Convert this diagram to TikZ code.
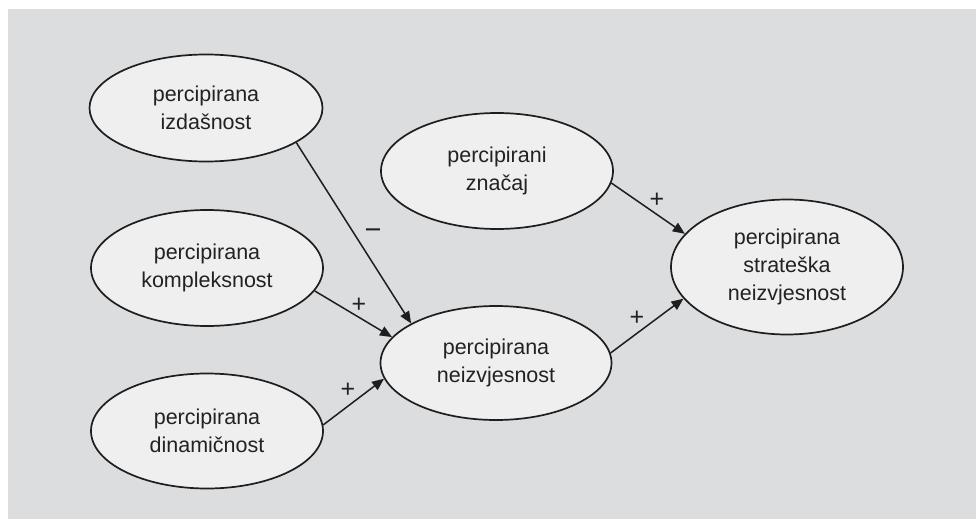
\documentclass[tikz,border=0pt]{standalone}
\usepackage{fontspec}
\setmainfont{Liberation Sans}
\usetikzlibrary{shapes.geometric,arrows.meta}
\definecolor{bgc}{HTML}{DCDDDF}
\definecolor{elc}{HTML}{EFEFEF}
\definecolor{lnc}{HTML}{1E1E1E}
\definecolor{txc}{HTML}{222222}
\tikzset{
  oval/.style={ellipse, draw=lnc, line width=1.7pt, fill=elc, inner sep=0pt,
    text=txc, align=center, font=\fontsize{21.5}{28}\selectfont},
  arr/.style={draw=lnc, line width=1.5pt, -{Triangle[length=12pt,width=10pt]}},
  sign/.style={text=txc, inner sep=0pt, font=\fontsize{25}{28}\selectfont}
}
\begin{document}
\begin{tikzpicture}[x=1pt,y=-1pt]
\useasboundingbox (0,0) rectangle (976,519);
\fill[white] (0,0) rectangle (976,519);
\fill[bgc] (8,9) rectangle (976,519);
\node[oval, minimum width=233pt, minimum height=107pt] (izd) at (206,108) {percipirana\\izdašnost};
\node[oval, minimum width=232pt, minimum height=116pt] (kom) at (207,268) {percipirana\\kompleksnost};
\node[oval, minimum width=232pt, minimum height=115pt] (din) at (207,431) {percipirana\\dinamičnost};
\node[oval, minimum width=231pt, minimum height=114pt] (nei) at (496,363) {percipirana\\neizvjesnost};
\node[oval, minimum width=232pt, minimum height=116pt] (zna) at (497,171) {percipirani\\značaj};
\node[oval, minimum width=232pt, minimum height=135pt] (str) at (787,267) {percipirana\\strateška\\neizvjesnost};
\draw[arr] (izd.-21) -- (nei.155);
\draw[arr] (kom.-12) -- (nei.166);
\draw[arr] (din.3) -- (nei.188);
\draw[arr] (nei.5) -- (str.197);
\draw[arr] (zna.-6) -- (str.162);
\node[sign, font=\fontsize{29}{30}\selectfont] (s1) at (373,234) {−};
\node[sign] (s2) at (359,305) {+};
\node[sign] (s3) at (348,390) {+};
\node[sign] (s4) at (637,318) {+};
\node[sign] (s5) at (657,200) {+};
\end{tikzpicture}
\end{document}
